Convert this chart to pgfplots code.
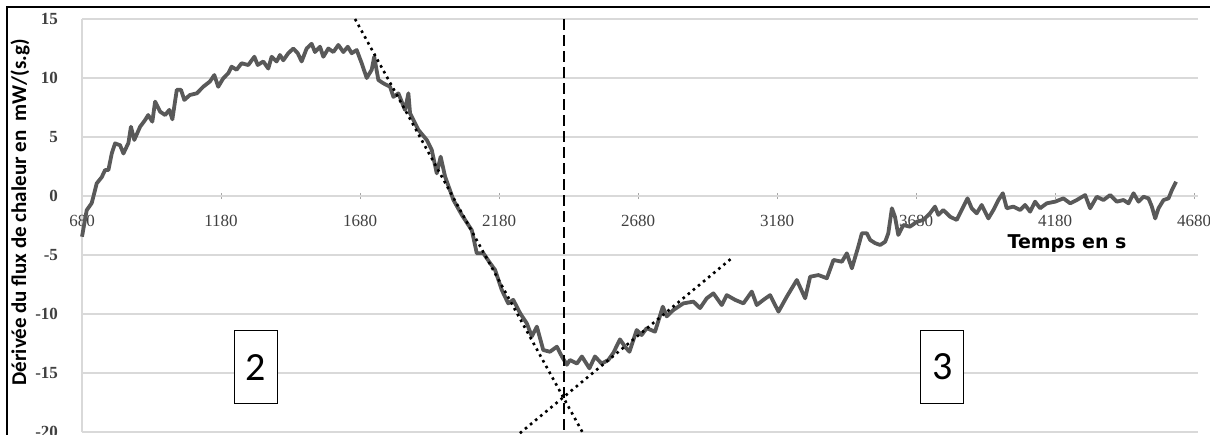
\documentclass[border=0pt]{standalone}
\usepackage{fontspec}
\setmainfont{Liberation Serif}
\newfontfamily\carlito{Carlito}
\newfontfamily\dejavu{DejaVu Sans}
\usepackage{pgfplots}
\pgfplotsset{compat=1.18}
\usepackage{pgfplotstable}

\definecolor{curve}{HTML}{595959}
\definecolor{gridc}{HTML}{D9D9D9}
\definecolor{tickc}{HTML}{404040}

% derivative of heat flux
\pgfplotstableread{
t y
680 -3.45
697 -1.2
715 -0.6
733 1.07
751 1.6
763 2.2
775 2.2
787 3.6
799 4.46
817 4.3
829 3.6
847 4.5
856 5.87
868 4.75
889 5.87
907 6.44
918 6.86
933 6.3
943 8.0
961 7.15
979 6.86
994 7.3
1005 6.5
1021 9.0
1036 9.0
1048 8.14
1068 8.56
1093 8.7
1116 9.26
1140 9.7
1156 10.25
1170 9.26
1188 9.97
1206 10.4
1218 10.96
1236 10.7
1254 11.25
1278 11.1
1300 11.8
1312 11.1
1332 11.4
1350 10.8
1362 11.8
1380 11.4
1392 11.95
1404 11.5
1422 12.1
1440 12.5
1456 12.1
1470 11.4
1488 12.5
1506 12.9
1518 12.2
1536 12.65
1548 11.8
1566 12.5
1584 12.2
1602 12.8
1620 12.2
1636 12.65
1650 12.1
1668 12.37
1686 11.25
1704 10.0
1722 10.7
1731 11.8
1746 9.83
1764 9.55
1788 9.26
1800 8.4
1818 8.7
1842 7.29
1854 8.7
1860 7.0
1890 5.6
1920 4.75
1938 3.9
1956 1.92
1970 3.33
1986 1.64
2016 -0.34
2046 -1.6
2082 -2.9
2100 -4.86
2124 -4.86
2148 -5.7
2166 -6.27
2190 -7.97
2213 -9.1
2231 -8.8
2256 -9.94
2280 -10.8
2298 -11.9
2316 -11.07
2339 -13.05
2363 -13.2
2388 -12.77
2406 -13.6
2424 -14.3
2435 -13.9
2460 -14.2
2478 -13.6
2505 -14.6
2525 -13.6
2549 -14.2
2573 -13.9
2591 -13.3
2615 -12.15
2633 -12.77
2649 -13.2
2675 -11.36
2693 -11.78
2711 -11.2
2741 -11.5
2769 -9.38
2783 -10.2
2807 -9.66
2843 -9.1
2879 -8.95
2903 -9.5
2927 -8.67
2951 -8.25
2981 -9.24
2999 -8.4
3029 -8.8
3059 -9.1
3089 -8.1
3107 -9.24
3131 -8.8
3155 -8.4
3185 -9.8
3215 -8.53
3251 -7.12
3281 -8.67
3299 -6.84
3329 -6.7
3359 -6.97
3383 -5.42
3413 -5.57
3431 -4.86
3449 -6.13
3472 -4.3
3485 -3.16
3503 -3.16
3515 -3.73
3533 -4.0
3551 -4.15
3569 -3.87
3580 -3.16
3593 -1.04
3604 -1.75
3616 -3.3
3634 -2.46
3658 -2.6
3683 -2.18
3706 -2.03
3730 -1.47
3748 -0.9
3760 -1.6
3778 -1.19
3802 -1.75
3826 -2.03
3850 -0.9
3865 -0.2
3880 -1.04
3898 -1.47
3916 -0.76
3940 -1.9
3958 -1.19
3976 -0.34
3992 0.23
4006 -1.04
4030 -0.9
4054 -1.19
4072 -0.76
4090 -1.33
4108 -0.48
4126 -1.04
4150 -0.62
4180 -0.48
4210 -0.2
4234 -0.62
4258 -0.34
4288 0.08
4306 -1.04
4330 -0.06
4354 -0.34
4378 0.08
4402 -0.48
4426 -0.34
4444 -0.62
4462 0.23
4480 -0.48
4498 -0.06
4516 -0.2
4528 -0.9
4540 -1.9
4552 -1.04
4570 -0.34
4588 -0.2
4600 0.5
4615 1.21
}\flux

\begin{document}
\begin{tikzpicture}
\useasboundingbox (0,0) rectangle (605pt,217pt);
\clip (0,0) rectangle (605pt,217pt);
\draw[line width=1pt] (3.5pt,-1pt) -- (3.5pt,213.5pt) -- (606pt,213.5pt);
\node[rotate=90, font=\carlito\bfseries\fontsize{10.5}{13}\selectfont] at (10pt,111pt)
  {Dérivée du flux de chaleur en~~mW/(s.g)};
\begin{axis}[
  at={(41pt,1pt)}, anchor=south west,
  scale only axis, width=558pt, height=206.5pt,
  xmin=680, xmax=4694, ymin=-20, ymax=15,
  axis x line*=middle, axis y line*=left,
  hide obscured x ticks=false, hide obscured y ticks=false,
  axis line style={gridc, line width=0.8pt},
  xtick={680,1180,1680,2180,2680,3180,3680,4180,4680},
  ytick={-20,-15,-10,-5,0,5,10,15},
  scaled x ticks=false,
  ymajorgrids, grid style={gridc, line width=1pt},
  xtick style={color=gray!70, line width=0.5pt},
  major tick length=3pt, tick align=center,
  ytick style={draw=none},
  /pgf/number format/assume math mode=true,
  /pgf/number format/1000 sep={},
  xticklabel style={font=\fontsize{8.5}{9}\selectfont, text=tickc, yshift=-4.5pt},
  yticklabel style={font=\bfseries\fontsize{8.5}{9}\selectfont, text=tickc, xshift=-7pt},
  clip=false,
]
\addplot[curve, line width=1.9pt, line join=round] table[x=t, y=y] {\flux};
% tangents
\addplot[black, dotted, line width=1.3pt] coordinates {(1662,15) (2482,-20.1)};
\addplot[black, dotted, line width=1.3pt] coordinates {(2255,-20.1) (3018,-5.25)};
% vertical marker
\addplot[black, line width=1.2pt, dash pattern=on 5.5pt off 2.5pt] coordinates {(2414,15) (2414,-20.5)};
\node[draw, line width=0.7pt, fill=white, minimum width=21.5pt, minimum height=36.5pt,
  inner sep=0pt, font=\carlito\fontsize{20}{22}\selectfont] at (axis cs:1306,-14.5) {2};
\node[draw, line width=0.7pt, fill=white, minimum width=21.5pt, minimum height=36.5pt,
  inner sep=0pt, font=\carlito\fontsize{20}{22}\selectfont] at (axis cs:3774,-14.5) {3};
\node[font=\dejavu\bfseries\fontsize{9.5}{11}\selectfont] at (axis cs:4223,-4.0) {Temps en s};
\end{axis}
\end{tikzpicture}
\end{document}
